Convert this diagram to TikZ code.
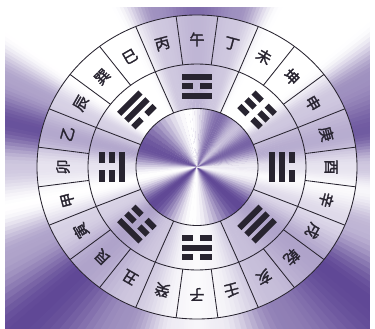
\documentclass[tikz,border=0pt]{standalone}
\usepackage{fontspec}
\newfontfamily\cjk[AutoFakeBold=1.8]{Noto Sans CJK SC}
\definecolor{purp}{RGB}{96,72,150}
\definecolor{ink}{RGB}{40,36,48}
\newcommand\conicwedges[2]{%
  \foreach \ang/\val [remember=\ang as \pang (initially 0), remember=\val as \pval (initially 0)] in {#2}{%
    \foreach \k in {1,...,12}{%
      \pgfmathsetmacro\aA{\pang+(\ang-\pang)*(\k-1)/12}%
      \pgfmathsetmacro\aB{\pang+(\ang-\pang)*\k/12+0.3}%
      \pgfmathsetmacro\myT{(1-cos(180*(\k-0.5)/12))/2}%
      \pgfmathsetmacro\q{max(0,min(100,100*(\pval+(\val-\pval)*\myT)))}%
      \fill[purp!\q!white] (0,0) -- (\aA:#1) -- (\aB:#1) -- cycle;
    }%
  }%
}
\newcommand\trigram[4]{%
  \foreach \r/\s in {75/#2,85/#3,95/#4}{%
    \begin{scope}[shift={(#1:{\r} and {0.95*\r})}, rotate=#1-90]
      \ifnum\s=1
        \fill[ink] (-15,-3) rectangle (15,3);
      \else
        \fill[ink] (-15,-3) rectangle (-3.5,3);
        \fill[ink] (3.5,-3) rectangle (15,3);
      \fi
    \end{scope}
  }%
}
\tikzset{
  mt/.style={font=\cjk\bfseries\fontsize{15}{15}\selectfont, text=ink, inner sep=0pt},
  ringline/.style={draw=ink, line width=0.85pt}
}
\begin{document}
\begin{tikzpicture}[x=1pt,y=1pt]
\useasboundingbox (-197,-162) rectangle (178,167);
\begin{scope}
  \clip (-197,-162) rectangle (178,167);
  \conicwedges{400}{0/0.3,12/0.9,28/0.6,40/0.0,62/0.0,75/0.6,90/0.8,105/0.6,118/0.0,145/0.0,155/0.5,167/0.95,180/0.3,192/0.0,205/0.5,222/1.0,245/0.6,262/0.1,270/0.05,278/0.1,300/0.7,322/1.0,340/0.4,352/0.05,360/0.3}
  \fill[white] (-197,160) rectangle (178,167);
  \fill[white] (-197,-162) rectangle (-192,167);
  \fill[white] (173,-162) rectangle (178,167);
\end{scope}
% lighter rings
\fill[white, opacity=0.5, even odd rule] (0,0) ellipse (160 and 152) (0,0) ellipse (61 and 58.5);
% centre disk
\begin{scope}
  \clip (0,0) ellipse (61 and 58.5);
  \conicwedges{80}{0/0.1,25/0.85,45/0.35,65/0.8,98/0.0,160/0.95,190/0.0,220/1.0,265/0.0,318/1.0,352/0.05,360/0.1}
\end{scope}
% circles
\draw[ringline] (0,0) ellipse (160 and 152);
\draw[ringline] (0,0) ellipse (109 and 103);
\draw[ringline] (0,0) ellipse (61 and 58.5);
% dividers of the 24 ring
\foreach \a in {0,...,23}{
  \draw[ringline] ({97.5+15*\a}:109 and 103) -- ({97.5+15*\a}:160 and 152);
}
% dividers of the trigram ring
\foreach \a in {0,...,7}{
  \draw[ringline] ({22.5+45*\a}:61 and 58.5) -- ({22.5+45*\a}:109 and 103);
}
% 24 mountains
\foreach \ch [count=\i from 0] in {午,丁,未,坤,申,庚,酉,辛,戌,乾,亥,壬,子,癸,丑,艮,寅,甲,卯,乙,辰,巽,巳,丙}{
  \pgfmathsetmacro\th{90-15*\i}
  \node[mt, rotate=\th-90] (m\i) at (\th:134 and 127.5) {\ch};
}
% trigrams (inner line first)
\trigram{90}{1}{0}{1}
\trigram{45}{0}{0}{0}
\trigram{0}{1}{1}{0}
\trigram{-45}{1}{1}{1}
\trigram{-90}{0}{1}{0}
\trigram{-135}{0}{0}{1}
\trigram{180}{1}{0}{0}
\trigram{135}{0}{1}{1}
\end{tikzpicture}
\end{document}
